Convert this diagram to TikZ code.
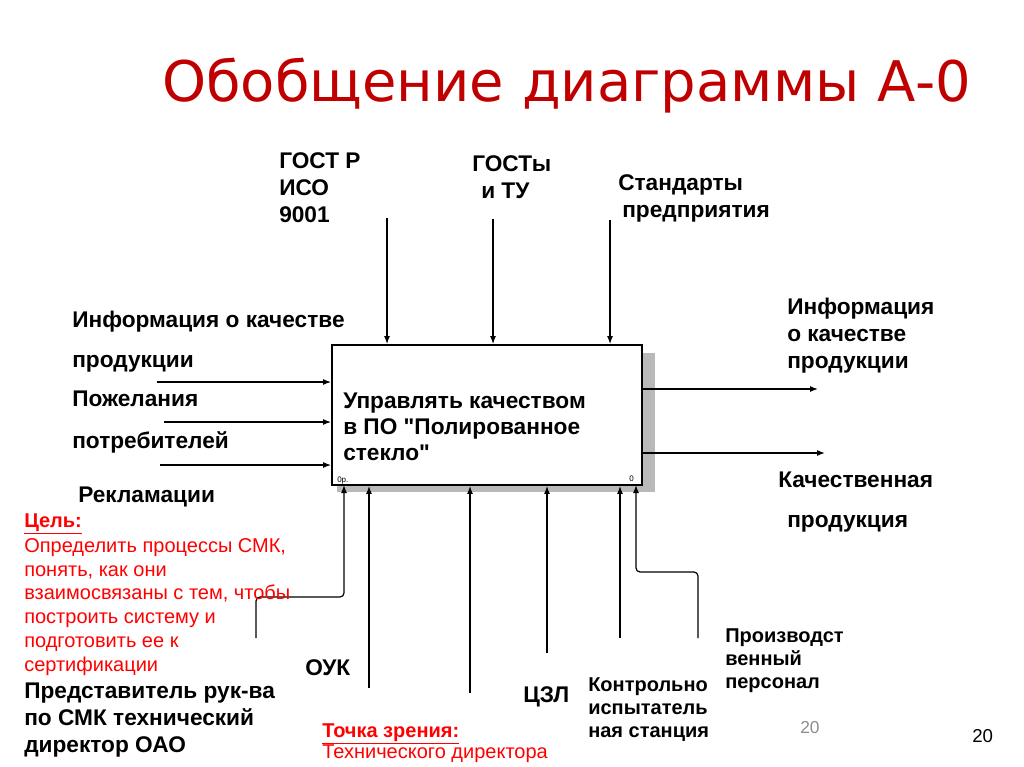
\documentclass[tikz,border=0pt]{standalone}
\usepackage{fontspec}
\setmainfont{Liberation Sans}
\newfontfamily\titlefont{DejaVu Sans}
\usetikzlibrary{arrows.meta,fit}
\definecolor{titlered}{HTML}{C00000}
\definecolor{textred}{HTML}{FF0000}
\definecolor{pagegray}{HTML}{8C8C8C}
\newcommand\stq{\XeTeXglyph\XeTeXglyphindex "quotedbl"\relax}
\begin{document}
\begin{tikzpicture}[x=0.75pt,y=-0.75pt,
  lbl/.style={anchor=base west, inner sep=0, align=left, font=\fontsize{17}{20.25}\selectfont\bfseries},
  slbl/.style={anchor=base west, inner sep=0, align=left, font=\fontsize{15}{17.25}\selectfont\bfseries},
  redtxt/.style={anchor=base west, inner sep=0, align=left, text=textred, font=\fontsize{15}{17.8}\selectfont},
  arr/.style={line width=0.9pt, -{Latex[length=6pt,width=4.5pt]}}
]
\useasboundingbox (0,0) rectangle (1024,767);
% title
\node[anchor=base west, inner sep=0, text=titlered, font=\titlefont\fontsize{42}{50}\selectfont] (title) at (162,102) {Обобщение диаграммы А-0};
% box with shadow
\fill[gray!55] (337,353) rectangle (655,492);
\coordinate (tl) at (332,345);
\coordinate (br) at (642,485);
\node[draw, line width=1.4pt, fill=white, fit=(tl)(br), inner sep=0] (box) {};
\node[lbl, font=\fontsize{17}{19.5}\selectfont\bfseries] (boxtext) at (343,460) {Управлять качеством\\в ПО \stq Полированное\\стекло\stq};
\node[anchor=base west, inner sep=0, font=\fontsize{6}{7}\selectfont] (n1) at (337,482) {0р.};
\node[anchor=base west, inner sep=0, font=\fontsize{6}{7}\selectfont] (n2) at (629,481) {0};
% controls
\node[lbl] (gost) at (279,222) {ГОСТ Р\\ИСО\\9001};
\node[lbl] (gosty) at (472,198) {ГОСТы\\\hspace*{6.75pt}и ТУ};
\node[lbl] (std) at (618,217) {Стандарты\\\hspace*{3pt}предприятия};
\coordinate (c1) at (387,218);
\coordinate (c2) at (493,219);
\coordinate (c3) at (610,220);
\draw[arr] (c1) -- (c1 |- box.north);
\draw[arr] (c2) -- (c2 |- box.north);
\draw[arr] (c3) -- (c3 |- box.north);
% inputs
\node[lbl] (in1) at (72,327) {Информация о качестве};
\node[lbl] (in2) at (72,367) {продукции};
\node[lbl] (in3) at (72,406) {Пожелания};
\node[lbl] (in4) at (72,448) {потребителей};
\node[lbl] (in5) at (78,502) {Рекламации};
\coordinate (i1) at (157,382);
\coordinate (i2) at (164,422);
\coordinate (i3) at (160,465);
\draw[arr] (i1) -- (i1 -| box.west);
\draw[arr] (i2) -- (i2 -| box.west);
\draw[arr] (i3) -- (i3 -| box.west);
% outputs
\coordinate (o1) at (818,389);
\coordinate (o2) at (825,453);
\draw[arr] (o1 -| box.east) -- (o1);
\draw[arr] (o2 -| box.east) -- (o2);
\node[lbl] (out1) at (787,368) {Информация\\о качестве\\продукции};
\node[lbl] (out2) at (778,487) {Качественная};
\node[lbl] (out3) at (787,527) {продукция};
% mechanisms
\coordinate (m1) at (256,638);
\coordinate (m2) at (369,688);
\coordinate (m3) at (470,693);
\coordinate (m4) at (547,653);
\coordinate (m5) at (620,638);
\coordinate (m6) at (698,638);
\draw[arr, rounded corners=3pt] (m1) -- (256,597) -- (344,597) -- (344,485);
\draw[arr] (m2) -- (m2 |- box.south);
\draw[arr] (m3) -- (m3 |- box.south);
\draw[arr] (m4) -- (m4 |- box.south);
\draw[arr] (m5) -- (m5 |- box.south);
\draw[arr, rounded corners=3pt] (m6) -- (698,572) -- (636,572) -- (636,485);
% left red text
\node[redtxt, font=\fontsize{15}{17.8}\selectfont\bfseries] (goal) at (24,527) {\underline{Цель:}};
\node[redtxt] (goaltext) at (24,671) {Определить процессы СМК,\\понять, как они\\взаимосвязаны с тем, чтобы\\построить систему и\\подготовить ее к\\сертификации};
\node[lbl] (rep) at (24,752) {Представитель рук-ва\\по СМК технический\\директор ОАО};
% bottom labels
\node[lbl] (ouk) at (305,675) {ОУК};
\node[lbl] (czl) at (523,702) {ЦЗЛ};
\node[slbl] (kis) at (588,737) {Контрольно\\испытатель\\ная станция};
\node[slbl] (pp) at (725,688) {Производст\\венный\\персонал};
\node[redtxt, font=\fontsize{15}{17.8}\selectfont\bfseries] (pov) at (322,737) {\underline{Точка зрения:}};
\node[redtxt] (povtext) at (322,758) {Технического директора};
% page numbers
\node[anchor=base west, inner sep=0, text=pagegray, font=\fontsize{13}{15}\selectfont] (pg1) at (800,733) {20};
\node[anchor=base west, inner sep=0, font=\fontsize{14}{16}\selectfont] (pg2) at (972,742) {20};
\end{tikzpicture}
\end{document}
